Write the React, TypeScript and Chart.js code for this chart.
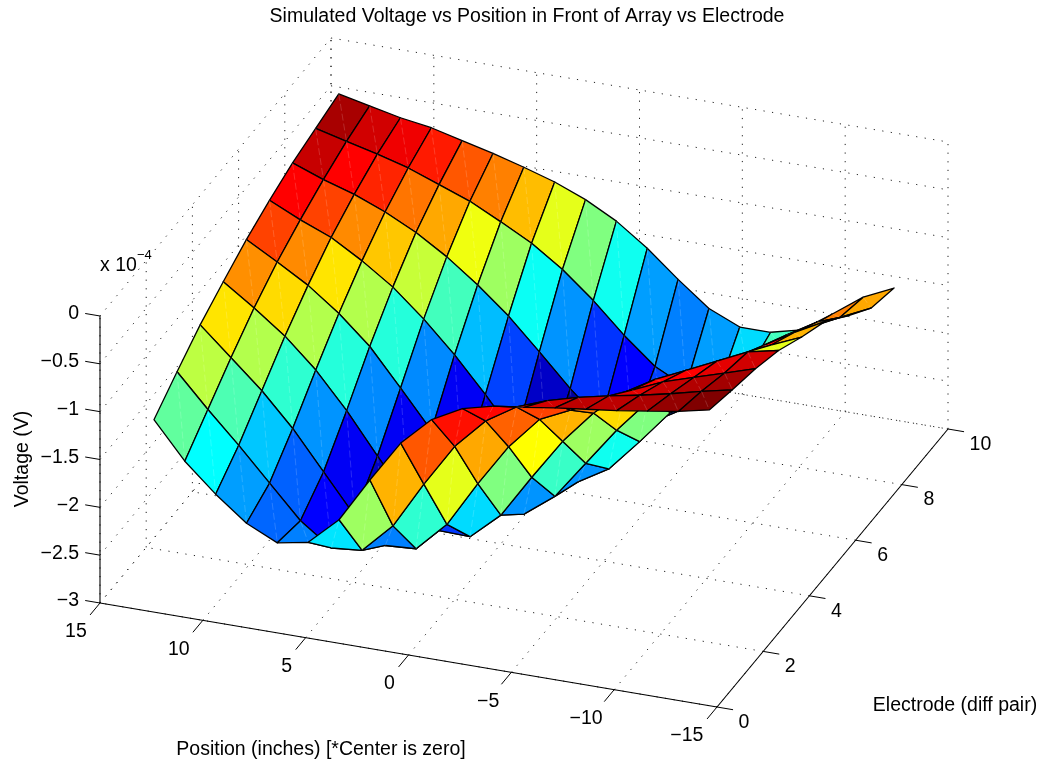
import React, { useEffect, useRef } from "react";
import { Chart, registerables } from "chart.js";

Chart.register(...registerables);

// Position (inches) of each column, electrode number of each row
const positions = [13.5, 12, 10.5, 9, 7.5, 6, 4.5, 3, 1.5, 0, -1.5, -3, -4.5, -6, -7.5, -9, -10.5, -12, -13.5];
const electrodes = [1, 2, 3, 4, 5, 6, 7, 8, 9];

// Voltage (x 10^-4 V)
const voltageE1 = [-1.32, -1.70, -1.99, -2.24, -2.39, -2.33, -2.04, -1.57, -1.13, -0.83, -0.66, -0.58, -0.54, -0.49, -0.45, -0.41, -0.36, -0.31, -0.24];
const voltageE2 = [-1.11, -1.45, -1.77, -2.11, -2.45, -2.68, -2.65, -2.34, -1.85, -1.40, -1.08, -0.88, -0.76, -0.67, -0.60, -0.54, -0.47, -0.39, -0.32];
const voltageE3 = [-0.91, -1.20, -1.49, -1.83, -2.23, -2.63, -2.89, -2.87, -2.56, -2.08, -1.64, -1.30, -1.15, -0.99, -0.83, -0.69, -0.59, -0.49, -0.39];
const voltageE4 = [-0.75, -0.97, -1.21, -1.51, -1.88, -2.30, -2.70, -2.97, -2.98, -2.70, -2.25, -1.82, -1.47, -1.20, -1.01, -0.86, -0.71, -0.56, -0.49];
const voltageE5 = [-0.60, -0.78, -0.97, -1.21, -1.50, -1.88, -2.27, -2.63, -2.89, -2.98, -2.74, -2.34, -1.94, -1.59, -1.36, -1.11, -0.94, -0.78, -0.64];
const voltageE6 = [-0.48, -0.63, -0.76, -0.95, -1.17, -1.45, -1.77, -2.13, -2.52, -2.71, -2.88, -2.69, -2.35, -1.99, -1.72, -1.44, -1.13, -0.94, -0.77];
const voltageE7 = [-0.38, -0.50, -0.60, -0.73, -0.89, -1.09, -1.33, -1.60, -1.92, -2.25, -2.54, -2.57, -2.39, -2.20, -1.99, -1.65, -1.31, -1.12, -1.00];
const voltageE8 = [-0.31, -0.39, -0.47, -0.56, -0.68, -0.80, -0.96, -1.13, -1.35, -1.62, -1.93, -2.20, -2.36, -2.37, -2.09, -1.74, -1.52, -1.36, -1.21];
const voltageE9 = [-0.24, -0.31, -0.38, -0.43, -0.51, -0.59, -0.68, -0.78, -0.91, -1.08, -1.31, -1.58, -1.83, -1.97, -1.97, -1.89, -1.67, -1.44, -1.29];
const voltage = [voltageE1, voltageE2, voltageE3, voltageE4, voltageE5, voltageE6, voltageE7, voltageE8, voltageE9];

// Colour level (0..1 on the jet map) of each face between two electrodes
const levelE1 = [0.47, 0.375, 0.28, 0.225, 0.25, 0.35, 0.53, 0.70, 0.79, 0.86, 0.87, 0.875, 0.92, 0.94, 0.94, 0.955, 0.98, 1.0];
const levelE2 = [0.56, 0.45, 0.32, 0.22, 0.125, 0.25, 0.25, 0.42, 0.60, 0.71, 0.78, 0.81, 0.90, 0.90, 0.90, 0.93, 0.95, 0.965];
const levelE3 = [0.65, 0.55, 0.42, 0.27, 0.115, 0.07, 0.06, 0.18, 0.34, 0.50, 0.625, 0.70, 0.75, 0.875, 0.875, 0.875, 0.90, 0.92];
const levelE4 = [0.735, 0.66, 0.55, 0.41, 0.26, 0.115, 0.08, 0.08, 0.15, 0.27, 0.43, 0.53, 0.66, 0.80, 0.875, 0.875, 0.875, 0.60];
const levelE5 = [0.81, 0.74, 0.65, 0.55, 0.41, 0.26, 0.115, 0.10, 0.10, 0.12, 0.27, 0.39, 0.50, 0.60, 0.875, 0.875, 0.875, 0.70];
const levelE6 = [0.875, 0.81, 0.74, 0.68, 0.57, 0.44, 0.31, 0.19, 0.07, 0.03, 0.10, 0.20, 0.20, 0.30, 0.30, 0.875, 0.875, 0.72];
const levelE7 = [0.93, 0.875, 0.84, 0.76, 0.71, 0.61, 0.53, 0.385, 0.27, 0.175, 0.125, 0.19, 0.20, 0.20, 0.30, 0.875, 0.875, 0.72];
const levelE8 = [0.96, 0.92, 0.89, 0.85, 0.79, 0.75, 0.69, 0.60, 0.50, 0.39, 0.28, 0.25, 0.28, 0.34, 0.44, 0.8125, 0.75, 0.71];
const levels = [levelE1, levelE2, levelE3, levelE4, levelE5, levelE6, levelE7, levelE8];

// Axes
const xTicks = [15, 10, 5, 0, -5, -10, -15];
const yTicks = [0, 2, 4, 6, 8, 10];
const zTicks = [0, -0.5, -1, -1.5, -2, -2.5, -3];
const xRange = [-15, 15];
const yRange = [0, 10];
const zRange = [-3, 0];
const titleText = "Simulated Voltage vs Position in Front of Array vs Electrode";
const xLabelText = "Position (inches) [*Center is zero]";
const yLabelText = "Electrode (diff pair)";
const zLabelText = "Voltage (V)";

// Orthographic view of the 3-D box on the chart's flat plane
const project = (x: number, y: number, z: number) => ({
  x: 100 + (15 - x) * 20.567 + y * 23.1,
  y: 603 + (15 - x) * 3.467 - y * 27.8 - (z + 3) * 95.67,
});

const jet = (t: number) => {
  const c = (v: number) => Math.round(255 * Math.max(0, Math.min(1, 1.5 - Math.abs(v))));
  return `rgb(${c(4 * t - 3)},${c(4 * t - 2)},${c(4 * t - 1)})`;
};

const minus = (n: number) => String(n).replace("-", "\u2212");

// Horizontal placement of the position tick labels, which are not evenly spaced
const xTickLabelShift = [-1, -1, 4, 4, 0, -5, -7];

function buildDatasets() {
  const painted: any[] = [];
  const seg = (pts: number[][], color: string, width: number, dash: number[] = []) =>
    painted.push({
      data: pts.map((p) => project(p[0], p[1], p[2])),
      showLine: true,
      borderColor: color,
      borderWidth: width,
      borderDash: dash,
      pointRadius: 0,
      tension: 0,
      fill: false,
    });

  const [x0, x1] = xRange;
  const [y0, y1] = yRange;
  const [z0, z1] = zRange;
  const dots = [1.2, 7.4];
  const gridColor = "#222";

  for (const x of xTicks) {
    seg([[x, y0, z0], [x, y1, z0]], gridColor, 1, dots);
    seg([[x, y1, z0], [x, y1, z1]], gridColor, 1, dots);
  }
  for (const y of yTicks) {
    seg([[x0, y, z0], [x1, y, z0]], gridColor, 1, dots);
    seg([[x1, y, z0], [x1, y, z1]], gridColor, 1, dots);
  }
  for (const z of zTicks) {
    seg([[x1, y0, z], [x1, y1, z]], gridColor, 1, dots);
    seg([[x1, y1, z], [x0, y1, z]], gridColor, 1, dots);
  }

  for (let r = levels.length - 1; r >= 0; r--) {
    for (let c = 0; c < positions.length - 1; c++) {
      const a = project(positions[c], electrodes[r], voltage[r][c]);
      const b = project(positions[c + 1], electrodes[r], voltage[r][c + 1]);
      const d = project(positions[c + 1], electrodes[r + 1], voltage[r + 1][c + 1]);
      const e = project(positions[c], electrodes[r + 1], voltage[r + 1][c]);
      painted.push({
        data: [a, b, d, e, a],
        showLine: true,
        backgroundColor: jet(levels[r][c]),
        borderColor: "#000",
        borderWidth: 1.3,
        borderJoinStyle: "round",
        borderCapStyle: "round",
        pointRadius: 0,
        tension: 0,
        fill: "shape",
      });
      painted.push({
        data: [e, b],
        showLine: true,
        borderColor: "rgba(255,255,255,0.16)",
        borderWidth: 1,
        borderDash: [7, 3],
        pointRadius: 0,
        tension: 0,
        fill: false,
      });
    }
  }

  const axisColor = "#000";
  seg([[x1, y0, z0], [x0, y0, z0]], axisColor, 1.1);
  seg([[x0, y0, z0], [x0, y1, z0]], axisColor, 1.1);
  seg([[x1, y0, z0], [x1, y0, z1]], axisColor, 1.1);
  for (const x of xTicks) seg([[x, y0, z0], [x, y0 - 0.43, z0]], axisColor, 1);
  for (const y of yTicks) seg([[x0, y, z0], [x0 - 0.78, y, z0]], axisColor, 1);
  for (const z of zTicks) seg([[x1, y0, z], [x1 + 0.72, y0, z]], axisColor, 1);

  return painted.reverse(); // Chart.js paints the last dataset first
}

const textPlugin = {
  id: "surfaceText",
  afterDraw(chart: any) {
    const { ctx, scales } = chart;
    const px = (p: { x: number; y: number }) => ({ x: scales.x.getPixelForValue(p.x), y: scales.y.getPixelForValue(p.y) });
    const font = '19.5px "Liberation Sans"';
    const put = (s: string, x: number, y: number, align: CanvasTextAlign = "center", f = font, rot = 0) => {
      ctx.save();
      ctx.fillStyle = "#000";
      ctx.font = f;
      ctx.textAlign = align;
      ctx.textBaseline = "middle";
      ctx.translate(x, y);
      if (rot) ctx.rotate(rot);
      ctx.fillText(s, 0, 0);
      ctx.restore();
    };
    ctx.save();
    xTicks.forEach((x, i) => {
      const p = px(project(x, -1.0, zRange[0]));
      put(minus(x), p.x + xTickLabelShift[i], p.y + 1);
    });
    for (const y of yTicks) {
      const p = px(project(-16, y, zRange[0]));
      put(String(y), p.x + 1, p.y + 12, "left");
    }
    for (const z of zTicks) {
      const p = px(project(15, 0, z));
      put(minus(z), p.x - 21, p.y - 2, "right");
    }
    put(titleText, 527, 17);
    put(xLabelText, 321, 750);
    put(yLabelText, 955, 706);
    put(zLabelText, 23, 459, "center", font, -Math.PI / 2);
    put("x 10", 100, 266, "left");
    put("\u22124", 137, 255, "left", '13px "Liberation Sans"');
    ctx.restore();
  },
};

export default function App() {
  const ref = useRef<HTMLCanvasElement>(null);
  useEffect(() => {
    document.body.style.margin = "0";
    document.body.style.background = "#fff";
    const chart = new Chart(ref.current as HTMLCanvasElement, {
      type: "scatter",
      data: { datasets: buildDatasets() },
      options: {
        animation: false,
        responsive: false,
        layout: { padding: 0 },
        scales: {
          x: { type: "linear", min: 0, max: 1044, display: false },
          y: { type: "linear", min: 0, max: 763, reverse: true, display: false },
        },
        plugins: { legend: { display: false }, tooltip: { enabled: false }, title: { display: false } },
      },
      plugins: [textPlugin],
    } as any);
    return () => chart.destroy();
  }, []);
  return <canvas ref={ref} width={1044} height={763} style={{ display: "block" }} />;
}
